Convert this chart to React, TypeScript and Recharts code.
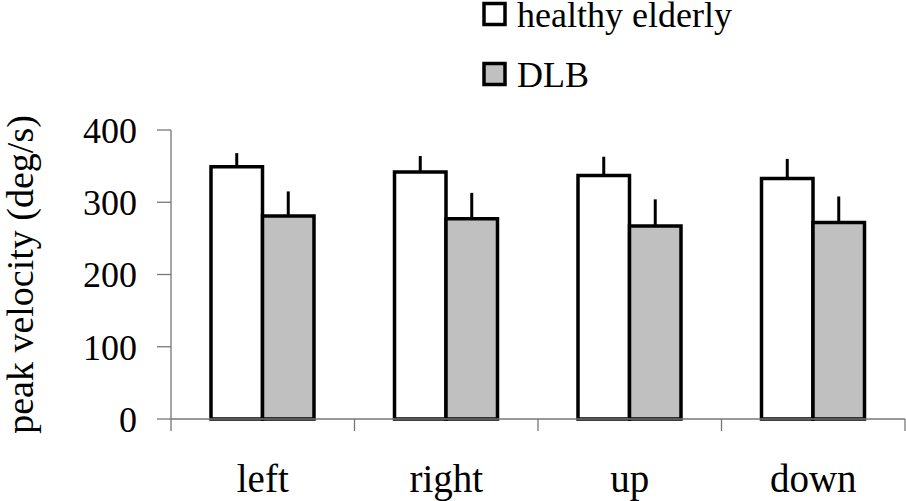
import { BarChart, Bar, XAxis, YAxis, ErrorBar, Legend } from 'recharts';

const directions = ['left', 'right', 'up', 'down'];
const healthyMean = [349, 342, 337, 333];
const healthyErr = [19, 22, 26, 27];
const dlbMean = [281, 277, 267, 272];
const dlbErr = [34, 36, 37, 36];
const yTicks = [0, 100, 200, 300, 400];
// category boundaries, in index units
const edgeTicks = [-0.5, 0.5, 1.5, 2.5, 3.5];

const SERIF = 'Liberation Serif, Times New Roman, DejaVu Serif, serif';
const AXIS = '#777';

const data = directions.map((dir, i) => ({
  dir,
  idx: i,
  healthy: healthyMean[i],
  healthyErr: [0, healthyErr[i]],
  dlb: dlbMean[i],
  dlbErr: [0, dlbErr[i]],
}));

function YLabel({ viewBox }: any) {
  const x = viewBox.x + 33;
  const y = viewBox.y + viewBox.height / 2;
  return (
    <text
      x={x}
      y={y}
      transform={`rotate(-90, ${x}, ${y})`}
      textAnchor="middle"
      style={{ fontFamily: SERIF, fontSize: 38 }}
      fill="#000"
    >
      peak velocity (deg/s)
    </text>
  );
}

function LegendBox() {
  const rows = [
    { label: 'healthy elderly', fill: '#fff' },
    { label: 'DLB', fill: '#c0c0c0' },
  ];
  return (
    <svg width={380} height={95}>
      {rows.map((r, i) => (
        <g key={r.label}>
          <rect x={6} y={3.5 + i * 60} width={21} height={21} fill={r.fill} stroke="#000" strokeWidth={3.5} />
          <text x={39} y={27 + i * 60} style={{ fontFamily: SERIF, fontSize: 36 }} fill="#000">
            {r.label}
          </text>
        </g>
      ))}
    </svg>
  );
}

const EmptyTick = () => <g />;

export default function App() {
  return (
    <div style={{ width: 906, height: 501, background: '#fff', fontFamily: SERIF }}>
      <style>{'body{margin:0}'}</style>
      <BarChart
        width={906}
        height={501}
        data={data}
        margin={{ top: 130, right: 1, bottom: 0, left: 0 }}
        barGap={0}
        barSize={51.5}
      >
        <XAxis
          xAxisId="a"
          type="number"
          dataKey="idx"
          domain={[-0.5, 3.5]}
          allowDataOverflow
          ticks={edgeTicks}
          interval={0}
          height={1}
          tick={EmptyTick}
          tickSize={12}
          axisLine={{ stroke: AXIS, strokeWidth: 1.3 }}
          tickLine={{ stroke: AXIS, strokeWidth: 1.3 }}
        />
        <XAxis
          xAxisId="b"
          dataKey="dir"
          height={81}
          axisLine={false}
          tickLine={false}
          tickSize={11}
          tickMargin={33}
          tick={{ fontFamily: SERIF, fontSize: 39, fill: '#000' }}
        />
        <YAxis
          width={171}
          domain={[0, 400]}
          ticks={yTicks}
          tickSize={14}
          tickMargin={20}
          axisLine={{ stroke: AXIS, strokeWidth: 1.3 }}
          tickLine={{ stroke: AXIS, strokeWidth: 1.3 }}
          tick={{ fontFamily: SERIF, fontSize: 36, fill: '#000' }}
          label={<YLabel />}
        />
        <Legend
          layout="horizontal"
          verticalAlign="middle"
          align="center"
          content={<LegendBox />}
          wrapperStyle={{ top: 0, left: 478, width: 380 }}
        />
        <Bar xAxisId="b" dataKey="healthy" fill="#fff" stroke="#000" strokeWidth={3.5} isAnimationActive={false}>
          <ErrorBar dataKey="healthyErr" direction="y" width={0} stroke="#000" strokeWidth={3} isAnimationActive={false} />
        </Bar>
        <Bar xAxisId="b" dataKey="dlb" fill="#c0c0c0" stroke="#000" strokeWidth={3.5} isAnimationActive={false}>
          <ErrorBar dataKey="dlbErr" direction="y" width={0} stroke="#000" strokeWidth={3} isAnimationActive={false} />
        </Bar>
      </BarChart>
    </div>
  );
}
